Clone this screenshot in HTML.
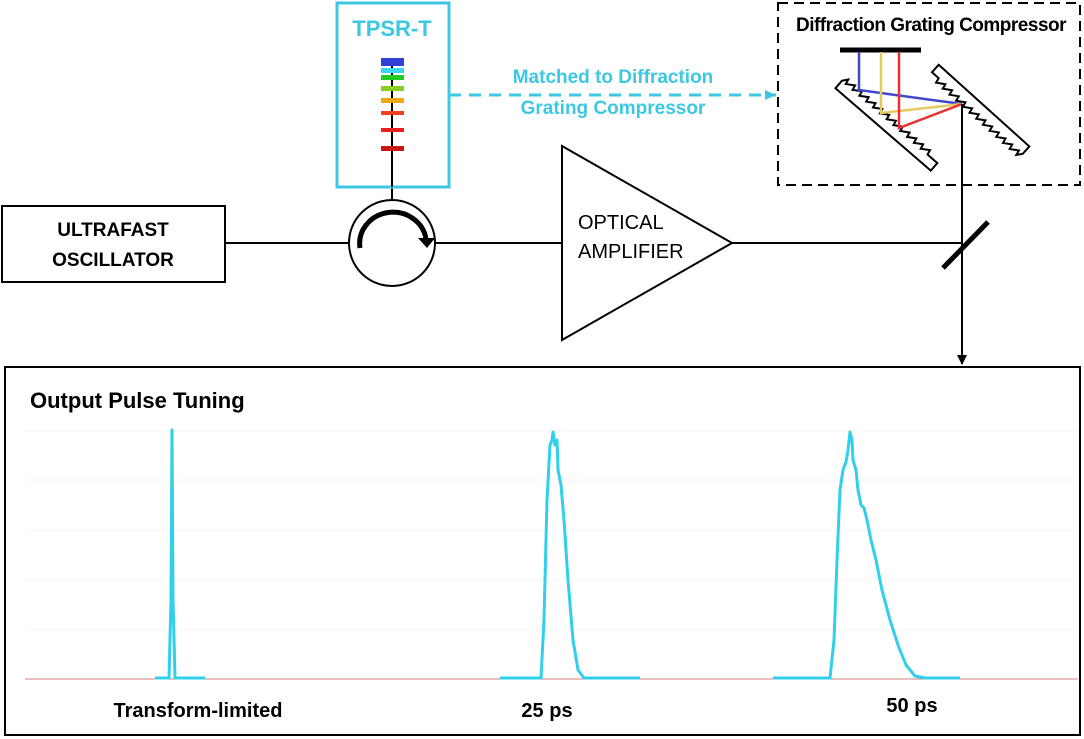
<!DOCTYPE html>
<html><head><meta charset="utf-8"><style>
html,body{margin:0;padding:0;background:#fff}
svg{display:block}
text{font-family:"Liberation Sans",sans-serif;font-weight:bold}
</style></head><body>
<svg width="1084" height="739" viewBox="0 0 1084 739" xmlns="http://www.w3.org/2000/svg">
<defs>
<marker id="ah" markerWidth="10" markerHeight="10" refX="9" refY="5" orient="auto" markerUnits="userSpaceOnUse"><path d="M0,0 L10,5 L0,10 Z" fill="#000"/></marker>
<marker id="ahc" markerWidth="12" markerHeight="12" refX="11" refY="6" orient="auto" markerUnits="userSpaceOnUse"><path d="M0,1 L11,6 L0,11 Z" fill="#3cc8e4"/></marker>
</defs>

<!-- Oscillator -->
<rect x="2" y="206" width="223" height="76" fill="#fff" stroke="#000" stroke-width="2"/>
<text x="113" y="236" font-size="19" text-anchor="middle">ULTRAFAST</text>
<text x="113" y="266" font-size="19" text-anchor="middle">OSCILLATOR</text>
<line x1="225" y1="243" x2="349" y2="243" stroke="#000" stroke-width="2"/>

<!-- Circulator -->
<circle cx="392" cy="243" r="43" fill="#fff" stroke="#000" stroke-width="2"/>
<path d="M360,248 A33,31 0 0 1 426,239" fill="none" stroke="#000" stroke-width="5"/>
<path d="M418,238 L435,238 L427,248 Z" fill="#000"/>
<line x1="435" y1="243" x2="562" y2="243" stroke="#000" stroke-width="2"/>
<line x1="392" y1="187" x2="392" y2="200" stroke="#000" stroke-width="2"/>

<!-- TPSR-T -->
<rect x="337" y="3" width="112" height="184" fill="#fff" stroke="#3cc8e4" stroke-width="3"/>
<text x="392" y="36" font-size="22" fill="#3cc8e4" text-anchor="middle">TPSR-T</text>
<line x1="392" y1="60" x2="392" y2="187" stroke="#000" stroke-width="2"/>
<rect x="381" y="58" width="23" height="8" fill="#3340d8"/>
<rect x="381" y="68" width="23" height="5" fill="#3ad8f0"/>
<rect x="381" y="75" width="23" height="5" fill="#22cc22"/>
<rect x="381" y="86" width="23" height="5" fill="#88d020"/>
<rect x="381" y="98" width="23" height="5" fill="#f0a818"/>
<rect x="381" y="111" width="23" height="4" fill="#f04020"/>
<rect x="381" y="128" width="23" height="4" fill="#e82020"/>
<rect x="381" y="146" width="23" height="5" fill="#c81818"/>

<!-- dashed link -->
<line x1="449" y1="95" x2="776" y2="95" stroke="#3cc8e4" stroke-width="3" stroke-dasharray="12,8" marker-end="url(#ahc)"/>
<text x="613" y="83" font-size="19" fill="#3cc8e4" text-anchor="middle">Matched to Diffraction</text>
<text x="613" y="114" font-size="19" fill="#3cc8e4" text-anchor="middle">Grating Compressor</text>

<!-- Amplifier -->
<polygon points="562,146 562,340 732,243" fill="#fff" stroke="#000" stroke-width="2"/>
<text x="578" y="229" font-size="20" style="font-weight:normal">OPTICAL</text>
<text x="578" y="258" font-size="20" style="font-weight:normal">AMPLIFIER</text>
<line x1="732" y1="243" x2="962" y2="243" stroke="#000" stroke-width="2"/>

<!-- Compressor -->
<rect x="778" y="3" width="302" height="182" fill="none" stroke="#000" stroke-width="2" stroke-dasharray="10,6"/>
<text x="931" y="31" font-size="19" text-anchor="middle" letter-spacing="-0.5">Diffraction Grating Compressor</text>
<line x1="840" y1="50" x2="921" y2="50" stroke="#000" stroke-width="5"/>
<!-- left grating -->
<g transform="translate(840,83) rotate(40.8)">
<path d="M0,-3 L4,-8 L5,-3 L13,-8 L14,-3 L22,-8 L23,-3 L31,-8 L32,-3 L40,-8 L41,-3 L49,-8 L50,-3 L58,-8 L59,-3 L67,-8 L68,-3 L76,-8 L77,-3 L85,-8 L86,-3 L94,-8 L95,-3 L103,-8 L104,-3 L112,-8 L113,-3 L126,-3 L126,7 L0,7 Z" fill="#fff" stroke="#000" stroke-width="2"/>
</g>
<!-- right grating -->
<g transform="translate(934,70) rotate(42)">
<path d="M0,-7 L122,-7 L122,3 L118,8 L117,3 L109,8 L108,3 L100,8 L99,3 L91,8 L90,3 L82,8 L81,3 L73,8 L72,3 L64,8 L63,3 L55,8 L54,3 L46,8 L45,3 L37,8 L36,3 L28,8 L27,3 L19,8 L18,3 L10,8 L9,3 L0,3 Z" fill="#fff" stroke="#000" stroke-width="2"/>
</g>
<polyline points="859,52 859,90 962,104" fill="none" stroke="#4048d0" stroke-width="2.5"/>
<polyline points="881,52 881,113 962,104" fill="none" stroke="#e8c860" stroke-width="2.5"/>
<polyline points="899,52 899,128 962,104" fill="none" stroke="#e83030" stroke-width="2.5"/>
<line x1="962" y1="104" x2="962" y2="364" stroke="#000" stroke-width="2" marker-end="url(#ah)"/>
<!-- mirror -->
<line x1="943" y1="268" x2="988" y2="222" stroke="#000" stroke-width="5"/>

<!-- Output panel -->
<rect x="5" y="367" width="1075" height="368" fill="none" stroke="#000" stroke-width="2"/>
<text x="30" y="408" font-size="22">Output Pulse Tuning</text>
<g stroke="#f4f4f4" stroke-width="1">
<line x1="25" y1="431" x2="1078" y2="431"/>
<line x1="25" y1="480" x2="1078" y2="480"/>
<line x1="25" y1="530" x2="1078" y2="530"/>
<line x1="25" y1="580" x2="1078" y2="580"/>
<line x1="25" y1="630" x2="1078" y2="630"/>
</g>
<line x1="25" y1="679" x2="1078" y2="679" stroke="#d08080" stroke-width="1"/>
<g fill="none" stroke="#30d0ec" stroke-width="3" stroke-linejoin="round">
<path d="M155,678 L169,678 L171,600 L172,430 L173,600 L175,678 L205,678"/>
<path d="M500,678 L541,678 L544,620 L547,500 L550,445 L552,440 L553,432 L555,445 L557,440 L558,470 L561,485 L564,520 L568,580 L573,640 L578,670 L584,678 L640,678"/>
<path d="M773,678 L830,678 L834,640 L837,560 L840,490 L843,470 L846,462 L848,450 L850,432 L852,440 L853,460 L856,470 L858,490 L861,505 L864,508 L867,520 L871,540 L876,560 L882,590 L890,620 L898,645 L906,665 L915,676 L925,678 L960,678"/>
</g>
<text x="198" y="717" font-size="20" text-anchor="middle">Transform-limited</text>
<text x="547" y="717" font-size="20" text-anchor="middle">25 ps</text>
<text x="912" y="712" font-size="20" text-anchor="middle">50 ps</text>
</svg>
</body></html>
